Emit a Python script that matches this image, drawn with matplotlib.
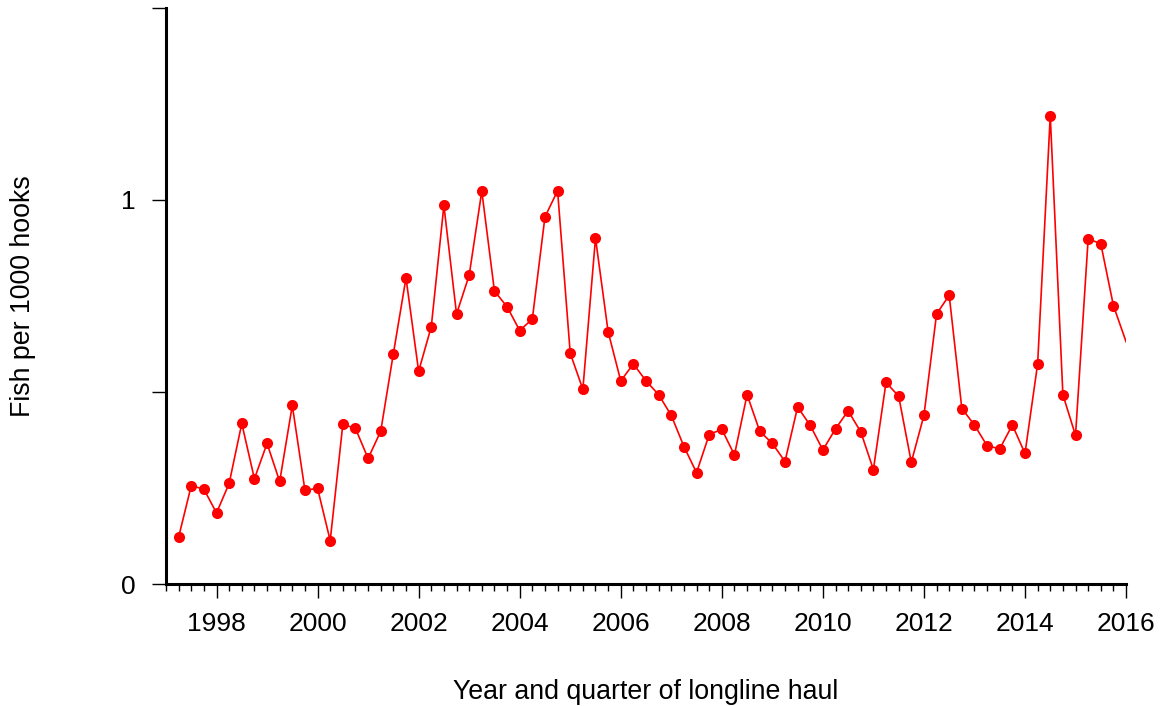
import matplotlib
matplotlib.use("Agg")
import matplotlib.pyplot as plt
from matplotlib.ticker import MultipleLocator, FixedLocator

# quarterly catch rate (fish per 1000 hooks), starting 1997 Q2
start_year = 1997.25
rates = [
    0.122, 0.256, 0.247, 0.185, 0.262, 0.418, 0.274, 0.366, 0.267, 0.465,
    0.244, 0.249, 0.113, 0.416, 0.405, 0.327, 0.398, 0.600, 0.797, 0.554,
    0.670, 0.986, 0.703, 0.804, 1.023, 0.763, 0.722, 0.660, 0.690, 0.956,
    1.024, 0.601, 0.507, 0.901, 0.657, 0.529, 0.573, 0.529, 0.493, 0.439,
    0.358, 0.290, 0.389, 0.403, 0.336, 0.493, 0.398, 0.366, 0.319, 0.461,
    0.413, 0.349, 0.404, 0.451, 0.396, 0.298, 0.525, 0.489, 0.317, 0.439,
    0.703, 0.752, 0.457, 0.414, 0.360, 0.352, 0.414, 0.340, 0.573, 1.220,
    0.493, 0.387, 0.899, 0.886, 0.725, 0.631,
]
years = [start_year + 0.25 * i for i in range(len(rates))]

year_ticks = list(range(1998, 2017, 2))
y_ticks = [0, 0.5, 1, 1.5]
y_labels = ["0", "", "1", ""]

plt.rcParams['font.family'] = ['Liberation Sans', 'DejaVu Sans']

fig = plt.figure(figsize=(11.64, 7.06), dpi=100)
ax = fig.add_axes([0.1426, 0.1728, 0.8248, 0.8159])

# last quarter sits on the axis edge: line only, no marker
ax.plot(years, rates, color='red', linewidth=1.2, marker='o',
        markersize=8, markeredgewidth=0, markevery=slice(0, len(rates) - 1))

ax.set_xlim(1997, 2016)
ax.set_ylim(0, 1.5)

ax.xaxis.set_major_locator(FixedLocator(year_ticks))
ax.xaxis.set_minor_locator(MultipleLocator(0.25))
ax.set_yticks(y_ticks)
ax.set_yticklabels(y_labels)

ax.tick_params(axis='x', which='major', length=10, width=1, pad=10, labelsize=19)
ax.tick_params(axis='x', which='minor', length=5, width=1)
ax.tick_params(axis='y', which='major', length=10, width=1, pad=12, labelsize=19)

for side in ['top', 'right']:
    ax.spines[side].set_visible(False)
for side in ['left', 'bottom']:
    ax.spines[side].set_linewidth(2.2)

ax.set_xlabel('Year and quarter of longline haul', fontsize=19.3, labelpad=31)
ax.set_ylabel('Fish per 1000 hooks', fontsize=19.3, labelpad=61)

fig.savefig('out.png', dpi=100)
